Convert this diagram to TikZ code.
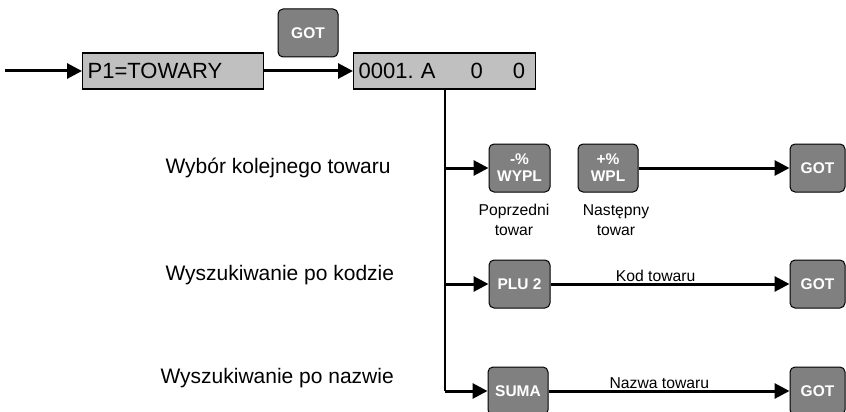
\documentclass[tikz,border=0pt]{standalone}
\usepackage{fontspec}
\setmainfont{Liberation Sans}
\usetikzlibrary{arrows.meta}
\definecolor{dispgray}{HTML}{C0C0C0}
\definecolor{keygray}{HTML}{808080}

\begin{document}
\begin{tikzpicture}[x=1pt, y=-1pt,
        disp/.style={draw, line width=1.2pt, fill=dispgray, minimum height=36pt, inner xsep=5pt, align=left, font=\fontsize{22}{25}\selectfont},
        key/.style={draw, line width=1pt, rounded corners=5pt, fill=keygray, text=white, minimum width=60pt, minimum height=48pt, align=center, font=\fontsize{15.5}{17}\selectfont\bfseries},
        lbl/.style={anchor=west, font=\fontsize{21}{24}\selectfont},
        note/.style={align=center, font=\fontsize{15.7}{19.5}\selectfont},
        arr/.style={line width=3pt, -{Triangle[length=15pt, width=15pt]}},
        vline/.style={line width=2pt}]
            \useasboundingbox (0,0) rectangle (846,412);

            % top row
            \coordinate (in) at (5,71);
            \node[disp, text width=171pt, anchor=west] (menu) at (82,71) {P1=TOWARY};
            \node[disp, text width=172pt, anchor=west] (val) at (353,71) {0001.\ A\hspace{35pt}0\hspace{30pt}0};
            \node[key] (got0) at (308,33) {GOT};

            % branches
            \node[key, minimum width=61pt] (wypl) at (519.5,168) {-\%\\WYPL};
            \node[key] (wpl) at (608,168) {+\%\\WPL};
            \node[key, minimum width=55pt] (got1) at (817.5,168) {GOT};
            \node[key, minimum width=61pt] (plu) at (519.5,284) {PLU 2};
            \node[key, minimum width=55pt] (got2) at (817.5,284) {GOT};
            \node[key] (suma) at (518,391) {SUMA};
            \node[key, minimum width=55pt] (got3) at (817.5,391) {GOT};

            % texts
            \node[lbl] (next) at (162,168) {Wybór kolejnego towaru};
            \node[lbl] (bycode) at (162,275) {Wyszukiwanie po kodzie};
            \node[lbl] (byname) at (157,378) {Wyszukiwanie po nazwie};
            \node[note] (prev) at (514,220) {Poprzedni\\towar};
            \node[note] (nxt) at (616,220) {Następny\\towar};

            \draw[arr] (in) -- (menu);
            \draw[arr] (menu) -- (val);
            \draw[vline] (val.south) -- (val.south |- suma.west);
            \draw[arr] (val.south |- wypl.west) -- (wypl.west);
            \draw[arr] (wpl) -- (got1);
            \draw[arr] (val.south |- plu.west) -- (plu.west);
            \draw[arr] (plu) -- node[pos=0.44, above, note, inner sep=1pt] {Kod towaru} (got2);
            \draw[arr] (val.south |- suma.west) -- (suma.west);
            \draw[arr] (suma) -- node[pos=0.46, above, note, inner sep=1pt] {Nazwa towaru} (got3);
        \end{tikzpicture}
\end{document}
